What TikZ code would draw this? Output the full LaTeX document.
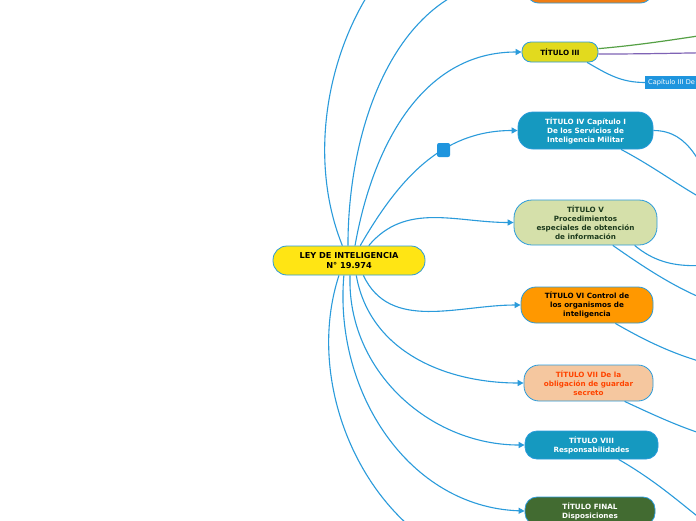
\documentclass[tikz,border=0pt]{standalone}
\usepackage{fontspec}
\setmainfont{DejaVu Sans}
\usetikzlibrary{arrows.meta}
\definecolor{edge-blue}{HTML}{2A9BDB}
\definecolor{ley-yellow}{HTML}{FFE514}
\definecolor{tit-yellow}{HTML}{E2DA1E}
\definecolor{tit-teal}{HTML}{1599C0}
\definecolor{tit-olive}{HTML}{D5E0AA}
\definecolor{tit-orange}{HTML}{FF9800}
\definecolor{top-orange}{HTML}{F07D14}
\definecolor{tit-peach}{HTML}{F5C79F}
\definecolor{tit-green}{HTML}{426B31}
\definecolor{txt-green}{HTML}{1D3B1D}
\definecolor{txt-red}{HTML}{FF4400}
\definecolor{cap-blue}{HTML}{1F95DE}
\definecolor{line-green}{HTML}{55A045}
\definecolor{line-purple}{HTML}{7F63B5}

\begin{document}
\begin{tikzpicture}[x=1pt, y=-1pt,
      every node/.style={font=\bfseries\fontsize{7.2}{9}\selectfont,
        align=center, inner sep=2pt},
      topic/.style={draw=edge-blue, line width=0.8pt, rounded corners=#1},
      topic/.default=14pt,
      link/.style={draw=edge-blue, line width=1.1pt,
        -{Triangle[length=6pt,width=6pt]}},
      sublink/.style={draw=edge-blue, line width=1.1pt},
      knot/.style={fill=cap-blue, rounded corners=2pt,
        minimum width=13pt, minimum height=14pt, inner sep=0pt}]
    \fill[white] (0,0) rectangle (696,520);
    \useasboundingbox (0,0) rectangle (696,520);

    % central topic
    \node[topic=14pt, fill=ley-yellow, minimum width=152pt, minimum height=29pt,
          font=\bfseries\fontsize{8.2}{10}\selectfont] (ley) at (349,260.5)
          {LEY DE INTELIGENCIA\\N° 19.974};

    % titles
    \foreach \n/\x/\y/\w/\h/\r/\bg/\fg/\lab in {
        ttop/589.5/-21/129/48/14pt/top-orange/black/{},
        tiii/560/52/76/20/9pt/tit-yellow/black/{TÍTULO III},
        tiv/585.5/130.5/135/37/15pt/tit-teal/white/{TÍTULO IV Capítulo I\\De los Servicios de\\Inteligencia Militar},
        tv/585.5/222.5/143/45/18pt/tit-olive/txt-green/{TÍTULO V\\Procedimientos\\especiales de obtención\\de información},
        tvi/587/305/132/36/15pt/tit-orange/black/{TÍTULO VI Control de\\los organismos de\\inteligencia},
        tvii/588.5/383/129/36/15pt/tit-peach/txt-red/{TÍTULO VII De la\\obligación de guardar\\secreto},
        tviii/591.5/445/133/28/12pt/tit-teal/white/{TÍTULO VIII\\Responsabilidades},
        tfin/590/511/130/28/12pt/tit-green/white/{TÍTULO FINAL\\Disposiciones}} {
      \node[topic=\r, fill=\bg, text=\fg, minimum width=\w pt,
            minimum height=\h pt] (\n) at (\x,\y) {\lab};
    }

    \node[anchor=west, fill=cap-blue, text=white, inner sep=3pt,
          font=\fontsize{6.6}{8}\selectfont, minimum height=13pt,
          text width=70pt, align=left] (cap) at (645,82.5) {Capítulo III De};

    % off-canvas ends
    \coordinate (offa) at (525,-100);
    \coordinate (offj) at (525,570);

    % links from the law
    \foreach \s/\t/\o/\i in {114/offa/112/180, 94/ttop.west/90/180,
        68/tiii.west/80/180, 37/tv.west/50/180, -46/tvi.west/-65/180,
        -64/tvii.west/-80/180, -86/tviii.west/-92/180,
        -109/tfin.west/-95/178, -124/offj/-108/180} {
      \draw[link] (ley.\s) to[out=\o,in=\i] (\t);
    }
    \draw[link] (ley.53) to[out=60,in=180] node[pos=0.62, knot] (sq) {} (tiv.west);

    % links leaving the titles
    \coordinate (g3) at (780,26);
    \coordinate (p3) at (780,52);
    \draw[line-green, line width=1.2pt] (tiii.5) to[out=5,in=185] (g3);
    \draw[line-purple, line width=1.2pt] (tiii.-3) to[out=0,in=180] (p3);
    \draw[sublink] (tiii.-21) to[out=-30,in=180] (cap.west);

    \foreach \s/\x/\y/\o/\i in {tiv.east/720/200/0/120, tiv.-28/760/222/-28/165,
        tv.-25/760/262/-40/180, tv.-40/760/318/-35/165,
        tvi.-33/760/375/-30/170, tvii.-27/760/448/-25/170,
        tviii.-28/760/560/-30/150} {
      \draw[sublink] (\s) to[out=\o,in=\i] (\x,\y);
    }
  \end{tikzpicture}
\end{document}
